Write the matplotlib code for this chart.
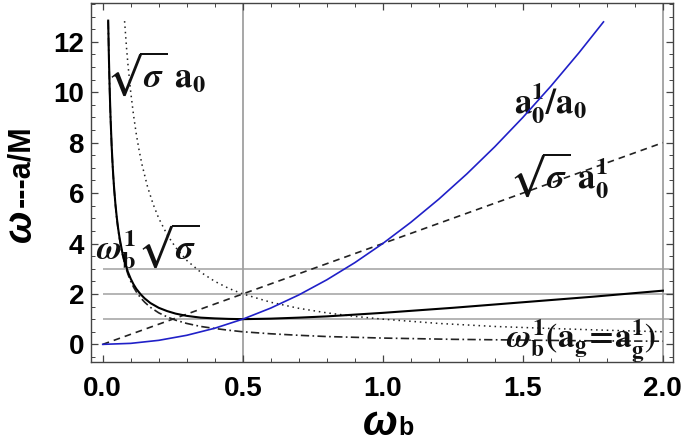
import matplotlib
matplotlib.use('Agg')
import matplotlib.pyplot as plt
from matplotlib.ticker import MultipleLocator

# =========================
# DATA
# =========================
# solid black: omega_b^1 sqrt(sigma)
x_solid = [0.0195, 0.022, 0.025, 0.028, 0.032, 0.036, 0.04, 0.045, 0.05, 0.055,
           0.06, 0.07, 0.08, 0.09, 0.10, 0.11, 0.12, 0.135, 0.15, 0.17, 0.20,
           0.23, 0.26, 0.30, 0.35, 0.40, 0.45, 0.50, 0.60, 0.70, 0.80, 0.90,
           1.00, 1.25, 1.50, 1.75, 2.00]
y_solid = [12.84, 11.39, 10.03, 8.96, 7.84, 6.98, 6.29, 5.60, 5.05, 4.60,
           4.23, 3.64, 3.21, 2.87, 2.60, 2.38, 2.20, 1.99, 1.82, 1.64, 1.45,
           1.32, 1.22, 1.13, 1.06, 1.03, 1.01, 1.00, 1.02, 1.06, 1.11, 1.18,
           1.25, 1.45, 1.67, 1.89, 2.13]

# dash-dot: omega_b^1 (a_g = a_g^1)
x_dashdot = [0.0195, 0.022, 0.025, 0.028, 0.032, 0.036, 0.04, 0.045, 0.05, 0.055,
             0.06, 0.07, 0.08, 0.09, 0.10, 0.11, 0.12, 0.135, 0.15, 0.17, 0.20,
             0.23, 0.26, 0.30, 0.35, 0.40, 0.45, 0.50, 0.60, 0.70, 0.80, 0.90,
             1.00, 1.25, 1.50, 1.75, 2.00]
y_dashdot = [12.82, 11.36, 10.00, 8.93, 7.81, 6.94, 6.25, 5.56, 5.00, 4.55,
             4.17, 3.57, 3.13, 2.78, 2.50, 2.27, 2.08, 1.85, 1.67, 1.47, 1.25,
             1.09, 0.96, 0.83, 0.71, 0.63, 0.56, 0.50, 0.42, 0.36, 0.31, 0.28,
             0.25, 0.20, 0.17, 0.14, 0.125]

# dotted: sqrt(sigma) a_0
x_dotted = [0.078, 0.085, 0.09, 0.10, 0.11, 0.12, 0.13, 0.14, 0.16, 0.18, 0.20,
            0.23, 0.26, 0.30, 0.35, 0.40, 0.45, 0.50, 0.60, 0.70, 0.80, 0.90,
            1.00, 1.20, 1.40, 1.60, 1.80, 2.00]
y_dotted = [12.82, 11.76, 11.11, 10.00, 9.09, 8.33, 7.69, 7.14, 6.25, 5.56, 5.00,
            4.35, 3.85, 3.33, 2.86, 2.50, 2.22, 2.00, 1.67, 1.43, 1.25, 1.11,
            1.00, 0.83, 0.71, 0.63, 0.56, 0.50]

# dashed: sqrt(sigma) a_0^1
x_dashed = [0.0, 2.0]
y_dashed = [0.0, 8.0]

# blue: a_0^1 / a_0
x_blue = [0.0, 0.1, 0.2, 0.3, 0.4, 0.5, 0.6, 0.7, 0.8, 0.9, 1.0, 1.1, 1.2,
          1.3, 1.4, 1.5, 1.6, 1.7, 1.788]
y_blue = [0.0, 0.04, 0.16, 0.36, 0.64, 1.00, 1.44, 1.96, 2.56, 3.24, 4.00,
          4.84, 5.76, 6.76, 7.84, 9.00, 10.24, 11.56, 12.79]

h_levels = [1, 2, 3]
v_levels = [0.5, 2.0]

# =========================
# FIGURE
# =========================
plt.rcParams['font.family'] = 'Liberation Sans'
plt.rcParams['font.weight'] = 'bold'
plt.rcParams['mathtext.fontset'] = 'stix'

fig = plt.figure(figsize=(6.85, 4.46), dpi=100)
ax = fig.add_axes([0.1328, 0.1883, 0.8496, 0.805])

xmin, xmax = -0.042, 2.036
ymin, ymax = -0.70, 13.54

grid_c = '#a0a0a0'
ax.hlines(h_levels, 0, xmax, colors=grid_c, linewidth=1.1, zorder=1)
for v in v_levels:
    ax.axvline(v, color=grid_c, linewidth=1.3, zorder=1)

ax.plot(x_dashed, y_dashed, color='#222222', linewidth=1.2, linestyle=(0, (4, 3)), zorder=3)
ax.plot(x_dotted, y_dotted, color='#222222', linewidth=1.1, linestyle=(0, (1, 2.5)), zorder=3)
ax.plot(x_dashdot, y_dashdot, color='#222222', linewidth=1.2, linestyle=(0, (5, 2, 1, 2)), zorder=3)
ax.plot(x_solid, y_solid, color='black', linewidth=1.5, zorder=4)
ax.plot(x_blue, y_blue, color='#2020c8', linewidth=1.2, zorder=4)

ax.set_xlim(xmin, xmax)
ax.set_ylim(ymin, ymax)

ax.set_xticks([0.0, 0.5, 1.0, 1.5, 2.0])
ax.set_xticklabels(['0.0', '0.5', '1.0', '1.5', '2.0'])
ax.set_yticks([0, 2, 4, 6, 8, 10, 12])
ax.xaxis.set_minor_locator(MultipleLocator(0.1))
ax.yaxis.set_minor_locator(MultipleLocator(0.5))
ax.tick_params(which='both', direction='in', top=True, right=True, color='#444444')
ax.tick_params(which='major', length=5, width=0.9, labelsize=20)
ax.tick_params(which='minor', length=3, width=0.7)
ax.tick_params(axis='x', which='major', pad=10)
ax.tick_params(axis='y', which='major', pad=5)
for s in ax.spines.values():
    s.set_color('#444444')
    s.set_linewidth(1.0)

# axis titles (omega in bold italic, rest upright)
fig.text(0.530, 0.0247, 'ω', fontsize=30, fontstyle='italic', fontweight='bold',
         ha='left', va='baseline')
fig.text(0.582, 0.0247, 'b', fontsize=18, fontweight='bold', ha='left', va='baseline')

fig.text(0.031, 0.536, '---a/M', fontsize=22, fontweight='bold', rotation=90,
         ha='center', va='bottom')
fig.text(0.031, 0.531, 'ω', fontsize=28, fontstyle='italic', fontweight='bold',
         rotation=90, ha='center', va='top')

# =========================
# ANNOTATIONS
# =========================
lab_kw = dict(fontsize=25, color='#111111', ha='left', va='baseline')
ax.text(0.012, 10.2, r'$\sqrt{\sigma}\ \mathbf{a_0}$', **lab_kw)
ax.text(-0.025, 3.4, r'$\omega_{\mathbf{b}}^{\mathbf{1}}\sqrt{\sigma}$', **lab_kw)
ax.text(1.47, 9.2, r'$\mathbf{a_0^1/a_0}$', **lab_kw)
ax.text(1.45, 6.2, r'$\sqrt{\sigma}\ \mathbf{a_0^1}$', **lab_kw)
ax.text(1.44, -0.16, r'$\omega_{\mathbf{b}}^{\mathbf{1}}\mathbf{(a_g\!=\!a_g^1)}$',
        fontsize=24, color='#111111', ha='left', va='baseline')

plt.savefig('out.png', dpi=100)
